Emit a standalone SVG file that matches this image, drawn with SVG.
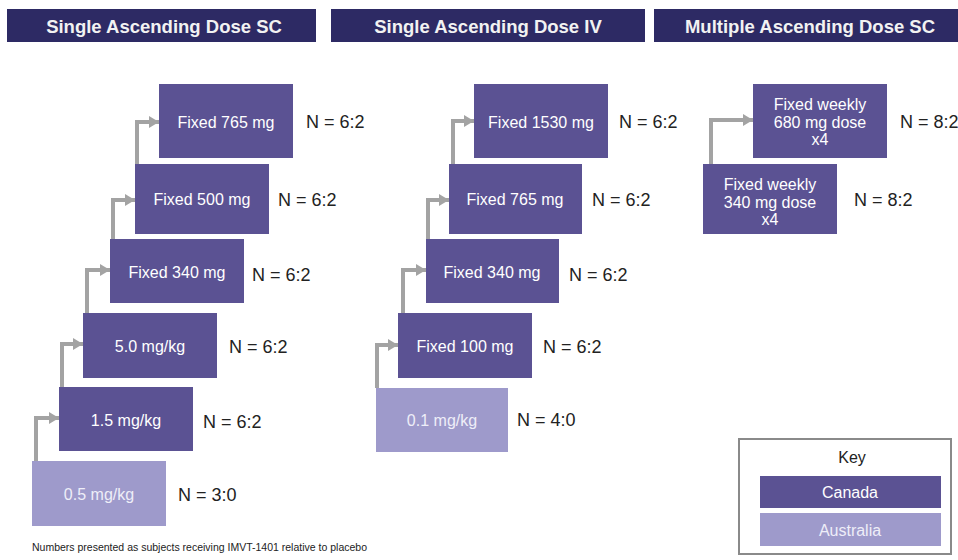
<svg xmlns="http://www.w3.org/2000/svg" width="958" height="560" viewBox="0 0 958 560">
<style>
.hdr{fill:#2d2a64}
.hdrt{font-family:"Liberation Sans",Arial,sans-serif;font-weight:bold;font-size:18.5px;fill:#f2f2f2;text-anchor:middle;dominant-baseline:central}
.dk{fill:#5b5293}
.lt{fill:#9e9acb}
.bt{font-family:"Liberation Sans",Arial,sans-serif;font-size:16px;fill:#ffffff;text-anchor:middle;dominant-baseline:central}
.btl{font-family:"Liberation Sans",Arial,sans-serif;font-size:16px;fill:#eeeef8;text-anchor:middle;dominant-baseline:central}
.n{font-family:"Liberation Sans",Arial,sans-serif;font-size:18px;fill:#222;dominant-baseline:central}
.c{fill:none;stroke:#a3a3a3;stroke-width:4;marker-end:url(#ah)}
.foot{font-family:"Liberation Sans",Arial,sans-serif;font-size:10.5px;fill:#222}
</style>
<defs>
<marker id="ah" markerUnits="userSpaceOnUse" markerWidth="10" markerHeight="12" refX="10" refY="6" orient="auto">
<path d="M0,0 L10,6 L0,12 Z" fill="#a3a3a3"/>
</marker>
</defs>
<rect width="958" height="560" fill="#ffffff"/>
<g id="headers">
<rect class="hdr" x="7" y="9" width="309" height="33"/>
<text class="hdrt" x="164" y="26">Single Ascending Dose SC</text>
<rect class="hdr" x="331" y="9" width="314" height="33"/>
<text class="hdrt" x="488" y="26">Single Ascending Dose IV</text>
<rect class="hdr" x="654" y="9" width="304" height="33"/>
<text class="hdrt" x="810" y="26">Multiple Ascending Dose SC</text>
</g>
<g id="connectors">
<polyline class="c" points="36,461 36,418 59,418"/>
<polyline class="c" points="62,387 62,344 83,344"/>
<polyline class="c" points="87,313 87,270 110,270"/>
<polyline class="c" points="113,239 113,200 135,200"/>
<polyline class="c" points="137,164 137,122 159,122"/>
<polyline class="c" points="377,388 377,345 398,345"/>
<polyline class="c" points="403,313 403,270 426,270"/>
<polyline class="c" points="428,239 428,200 449,200"/>
<polyline class="c" points="453,164 453,121 474,121"/>
<polyline class="c" points="711,164 711,120 753,120"/>
</g>
<g id="sc-0-5">
<rect class="lt" x="32" y="461" width="134" height="65"/>
<text class="btl" x="99" y="494">0.5 mg/kg</text>
<text class="n" x="178" y="495">N = 3:0</text>
</g>
<g id="sc-1-5">
<rect class="dk" x="59" y="387" width="134" height="64"/>
<text class="bt" x="126" y="420">1.5 mg/kg</text>
<text class="n" x="203" y="422">N = 6:2</text>
</g>
<g id="sc-5-0">
<rect class="dk" x="83" y="313" width="134" height="65"/>
<text class="bt" x="150" y="346">5.0 mg/kg</text>
<text class="n" x="229" y="347">N = 6:2</text>
</g>
<g id="sc-340">
<rect class="dk" x="110" y="239" width="134" height="64"/>
<text class="bt" x="177" y="272">Fixed 340 mg</text>
<text class="n" x="252" y="275">N = 6:2</text>
</g>
<g id="sc-500">
<rect class="dk" x="135" y="164" width="134" height="70"/>
<text class="bt" x="202" y="199">Fixed 500 mg</text>
<text class="n" x="278" y="200">N = 6:2</text>
</g>
<g id="sc-765">
<rect class="dk" x="159" y="84" width="134" height="74"/>
<text class="bt" x="226" y="122">Fixed 765 mg</text>
<text class="n" x="306" y="122">N = 6:2</text>
</g>
<g id="iv-0-1">
<rect class="lt" x="376" y="388" width="132" height="64"/>
<text class="btl" x="442" y="420">0.1 mg/kg</text>
<text class="n" x="517" y="420">N = 4:0</text>
</g>
<g id="iv-100">
<rect class="dk" x="398" y="313" width="134" height="65"/>
<text class="bt" x="465" y="346">Fixed 100 mg</text>
<text class="n" x="543" y="347">N = 6:2</text>
</g>
<g id="iv-340">
<rect class="dk" x="426" y="239" width="133" height="64"/>
<text class="bt" x="492" y="272">Fixed 340 mg</text>
<text class="n" x="569" y="275">N = 6:2</text>
</g>
<g id="iv-765">
<rect class="dk" x="449" y="164" width="133" height="70"/>
<text class="bt" x="515" y="199">Fixed 765 mg</text>
<text class="n" x="592" y="200">N = 6:2</text>
</g>
<g id="iv-1530">
<rect class="dk" x="474" y="84" width="134" height="74"/>
<text class="bt" x="541" y="122">Fixed 1530 mg</text>
<text class="n" x="619" y="122">N = 6:2</text>
</g>
<g id="mad-340">
<rect class="dk" x="703" y="164" width="134" height="70"/>
<text class="bt" x="770" y="184">Fixed weekly</text>
<text class="bt" x="770" y="202">340 mg dose</text>
<text class="bt" x="770" y="219">x4</text>
<text class="n" x="854" y="200">N = 8:2</text>
</g>
<g id="mad-680">
<rect class="dk" x="753" y="84" width="134" height="74"/>
<text class="bt" x="820" y="104">Fixed weekly</text>
<text class="bt" x="820" y="122">680 mg dose</text>
<text class="bt" x="820" y="139">x4</text>
<text class="n" x="900" y="122">N = 8:2</text>
</g>
<g id="key">
<rect x="739" y="439" width="212" height="115" fill="#ffffff" stroke="#8a8a8a" stroke-width="2"/>
<text class="n" x="852" y="457" text-anchor="middle" style="font-size:16px">Key</text>
<rect class="dk" x="760" y="476" width="181" height="32"/>
<text class="bt" x="850" y="492">Canada</text>
<rect class="lt" x="760" y="513" width="181" height="33"/>
<text class="btl" x="850" y="530">Australia</text>
</g>
<text class="foot" x="32" y="551">Numbers presented as subjects receiving IMVT-1401 relative to placebo</text>
</svg>
